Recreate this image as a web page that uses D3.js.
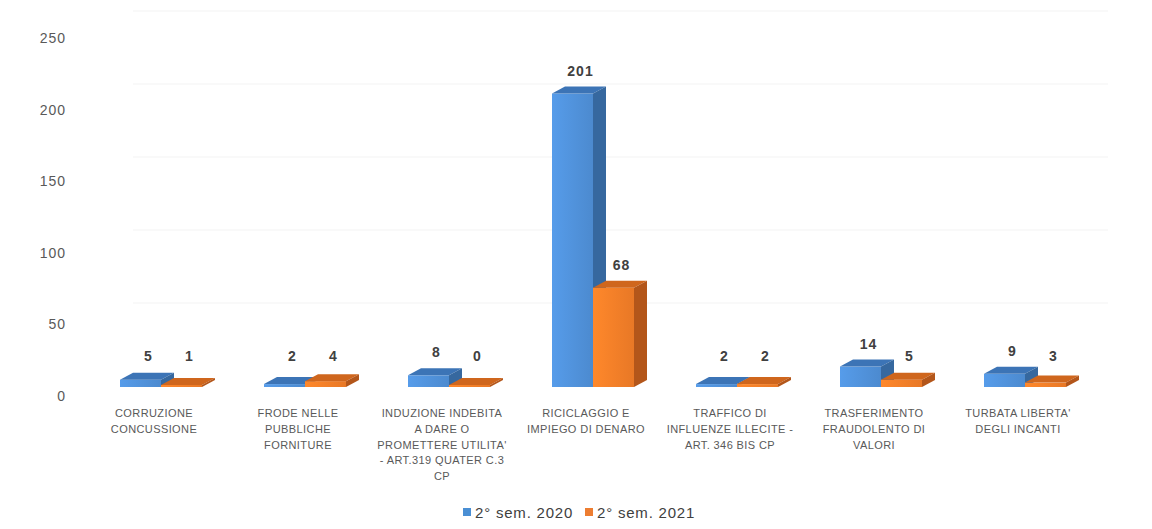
<!DOCTYPE html>
<html>
<head>
<meta charset="utf-8">
<script src="https://d3js.org/d3.v7.min.js"></script>
<style>
body { margin: 0; background: #fff; }
svg { display: block; font-family: "Liberation Sans", Arial, sans-serif; }
</style>
</head>
<body>
<div id="chart"></div>
<script>
// data
var categories = [
	"CORRUZIONE CONCUSSIONE",
	"FRODE NELLE PUBBLICHE FORNITURE",
	"INDUZIONE INDEBITA A DARE O PROMETTERE UTILITA' - ART.319 QUATER C.3 CP",
	"RICICLAGGIO E IMPIEGO DI DENARO",
	"TRAFFICO DI INFLUENZE ILLECITE - ART. 346 BIS CP",
	"TRASFERIMENTO FRAUDOLENTO DI VALORI",
	"TURBATA LIBERTA' DEGLI INCANTI"
];
// how Excel wrapped the category labels
var categoryLines = [
	["CORRUZIONE", "CONCUSSIONE"],
	["FRODE NELLE", "PUBBLICHE", "FORNITURE"],
	["INDUZIONE INDEBITA", "A DARE O", "PROMETTERE UTILITA'", "- ART.319 QUATER C.3", "CP"],
	["RICICLAGGIO E", "IMPIEGO DI DENARO"],
	["TRAFFICO DI", "INFLUENZE ILLECITE -", "ART. 346 BIS CP"],
	["TRASFERIMENTO", "FRAUDOLENTO DI", "VALORI"],
	["TURBATA LIBERTA'", "DEGLI INCANTI"]
];
var seriesNames = ["2° sem. 2020", "2° sem. 2021"];
var sem2020 = [5, 2, 8, 201, 2, 14, 9];
var sem2021 = [1, 4, 0, 68, 2, 5, 3];
var yTicks = [0, 50, 100, 150, 200, 250];

var width = 1152;
var height = 529;

var svg = d3.select("#chart").append("svg")
	.attr("width", width)
	.attr("height", height);

// colors per series: front, top, side
var pal = [
	{front: "#4f8fd6", top: "#3c74b6", side: "#36689f", key: "#4a8fd4"},
	{front: "#f07c27", top: "#cf661d", side: "#b3561a", key: "#ed7d31"}
];

var defs = svg.append("defs");
pal.forEach(function(p, i) {
	var g = defs.append("linearGradient").attr("id", "fg" + i)
		.attr("x1", "0").attr("x2", "1").attr("y1", "0").attr("y2", "0");
	g.append("stop").attr("offset", "0%").attr("stop-color", d3.color(p.front).brighter(0.25));
	g.append("stop").attr("offset", "100%").attr("stop-color", d3.color(p.front).darker(0.1));
});

var x0 = d3.scaleBand().domain(categories).range([89, 1097]).padding(0);
var x1 = d3.scaleBand().domain(seriesNames).range([31, 113]).padding(0);
var yBar = d3.scaleLinear().domain([0, 250]).range([387, 22]);   // front face of the bars
var yLab = d3.scaleLinear().domain([0, 250]).range([396, 38]);   // axis labels (back wall)

var depthX = 13, depthY = 7;

// faint gridlines on back wall
svg.append("g").selectAll("line")
	.data(yTicks.slice(1))
	.enter().append("line")
	.attr("x1", 120 + depthX)
	.attr("x2", 1095 + depthX)
	.attr("y1", function(d) { return yBar(d) - depthY - 4; })
	.attr("y2", function(d) { return yBar(d) - depthY - 4; })
	.attr("stroke", "#f3f3f3")
	.attr("stroke-width", 1);

// y axis labels
svg.append("g").selectAll("text")
	.data(yTicks)
	.enter().append("text")
	.attr("x", 66)
	.attr("y", function(d) { return yLab(d); })
	.attr("dy", "0.35em")
	.attr("text-anchor", "end")
	.attr("font-size", "14px")
	.attr("letter-spacing", "1px")
	.attr("fill", "#595959")
	.text(function(d) { return d; });

var rows = [];
categories.forEach(function(c, i) {
	rows.push({cat: c, s: 0, v: sem2020[i]});
	rows.push({cat: c, s: 1, v: sem2021[i]});
});
// draw all blue first then orange, so orange covers blue side
rows.sort(function(a, b) { return a.s - b.s; });

var gBars = svg.append("g");
rows.forEach(function(r) {
	var x = x0(r.cat) + x1(seriesNames[r.s]);
	var w = x1.bandwidth();
	var yb = yBar(0);
	var yt = Math.min(yBar(r.v), yb - 2);
	var p = pal[r.s];
	var g = gBars.append("g");
	g.append("rect")
		.attr("x", x).attr("y", yt)
		.attr("width", w).attr("height", yb - yt)
		.attr("fill", "url(#fg" + r.s + ")");
	g.append("polygon")
		.attr("points", [[x, yt], [x + depthX, yt - depthY], [x + w + depthX, yt - depthY], [x + w, yt]].join(" "))
		.attr("fill", p.top);
	g.append("polygon")
		.attr("points", [[x + w, yt], [x + w + depthX, yt - depthY], [x + w + depthX, yb - depthY], [x + w, yb]].join(" "))
		.attr("fill", p.side);
});

// value labels
svg.append("g").selectAll("text")
	.data(rows)
	.enter().append("text")
	.attr("x", function(d) { return x0(d.cat) + x1(seriesNames[d.s]) + x1.bandwidth() / 2 + 8; })
	.attr("y", function(d) { return Math.min(yBar(d.v) - depthY - 11, 361); })
	.attr("text-anchor", "middle")
	.attr("font-size", "14px")
	.attr("letter-spacing", "1px")
	.attr("font-weight", "bold")
	.attr("fill", "#404040")
	.text(function(d) { return d.v; });

// category labels
var gCat = svg.append("g");
categories.forEach(function(c, i) {
	var cx = x0(c) + x0.bandwidth() / 2 - 7;
	var t = gCat.append("text")
		.attr("x", cx)
		.attr("y", 417)
		.attr("text-anchor", "middle")
		.attr("font-size", "11px")
		.attr("letter-spacing", "0.4px")
		.attr("fill", "#595959");
	categoryLines[i].forEach(function(line, j) {
		t.append("tspan")
			.attr("x", cx)
			.attr("dy", j === 0 ? 0 : 15.8)
			.text(line);
	});
});

// legend
var legend = svg.append("g");
var legendX = [463, 585];
seriesNames.forEach(function(s, i) {
	legend.append("rect")
		.attr("x", legendX[i]).attr("y", 508)
		.attr("width", 8).attr("height", 8)
		.attr("fill", pal[i].key);
	legend.append("text")
		.attr("x", legendX[i] + 12).attr("y", 518)
		.attr("font-size", "15px")
		.attr("letter-spacing", "0.8px")
		.attr("fill", "#404040")
		.text(s);
});
</script>
</body>
</html>
